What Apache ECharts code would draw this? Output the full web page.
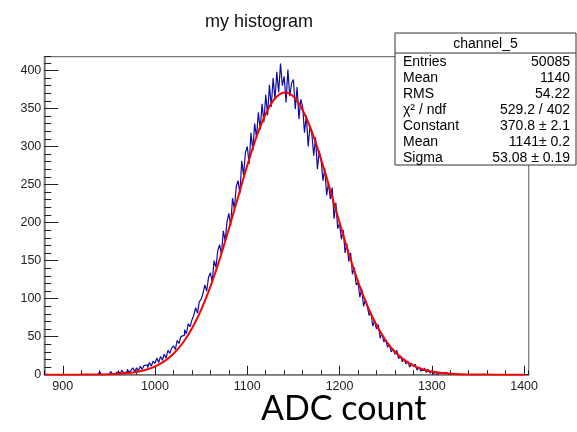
<!DOCTYPE html>
<html>
<head>
<meta charset="utf-8">
<script src="https://cdn.jsdelivr.net/npm/echarts@6/dist/echarts.min.js"></script>
<style>
html,body{margin:0;padding:0;background:#fff;}
#chart{width:577px;height:432px;}
</style>
</head>
<body>
<div id="chart"></div>
<script>
// Histogram: bins of width 2 starting at 930 (counts)
const binStart = 930;
const binWidth = 2;
const counts = [
  0,0,0,0,0,
  4,0,0,2,0,
  0,4,1,0,3,
  3,0,6,2,4,
  7,3,6,9,4,
  9,5,11,7,12,
  13,9,16,11,18,
  15,22,16,24,19,
  27,22,32,28,35,
  38,33,45,41,50,
  52,59,54,67,63,
  72,78,88,81,96,
  99,107,118,110,128,
  134,122,150,141,163,
  171,158,189,176,201,
  212,196,232,218,247,
  255,238,281,262,292,
  300,277,318,295,330,
  312,345,322,356,332,
  368,341,381,352,390,
  362,398,371,409,380,
  392,358,401,366,383,
  388,349,378,336,362,
  352,318,341,300,327,
  316,288,312,270,294,
  282,255,271,236,252,
  231,246,205,226,192,
  199,178,190,160,172,
  149,160,132,141,118,
  121,102,113,90,99,
  90,78,82,64,71,
  60,66,48,54,43,
  46,36,40,30,34,
  27,32,21,25,17,
  21,14,18,10,15,
  11,14,6,10,5,
  6,9,3,7,2,
  5,1,4,0,3,
  2,0,3,1,0,
  1,0,0,0,0
];
// Gaussian fit curve, read at sample points
const fitX = [881,891,901,911,921,931,941,951,961,971,981,991,1001,1011,1021,1031,1041,1051,1061,1071,1081,1091,1101,1111,1121,1131,1141,1151,1161,1171,1181,1191,1201,1211,1221,1231,1241,1251,1261,1271,1281,1291,1301,1311,1321,1331,1341,1351,1361,1371,1381,1391,1401];
const fitY = [0,0,0,0,0.1,0.1,0.3,0.6,1.2,2.2,3.9,6.8,11.4,18.5,28.8,43.3,62.9,88.1,119.1,155.4,195.7,237.9,279.1,316.1,345.4,364.3,370.8,364.3,345.4,316.1,279.1,237.9,195.7,155.4,119.1,88.1,62.9,43.3,28.8,18.5,11.4,6.8,3.9,2.2,1.2,0.6,0.3,0.1,0.1,0,0,0,0];
const xTickLabels = [900,1000,1100,1200,1300,1400];
const yTickLabels = [0,50,100,150,200,250,300,350,400];
const statsTitle = 'channel_5';
const statsNames = ['Entries','Mean','RMS','\u03C7\u00B2 / ndf','Constant','Mean','Sigma'];
const statsValues = ['50085','1140','54.22','529.2 / 402','370.8 \u00B1 2.1','1141\u00B1 0.2','53.08 \u00B1 0.19'];

const X_MIN = 880, X_MAX = 1405, Y_MIN = 0, Y_MAX = 418;

const histData = [[X_MIN, 0]];
counts.forEach((c, i) => histData.push([binStart + i * binWidth, c]));
histData.push([binStart + counts.length * binWidth, 0]);
histData.push([X_MAX, 0]);
const fitData = fitX.map((x, i) => [x, fitY[i]]);

const font = 'Liberation Sans, Arial, sans-serif';
const chart = echarts.init(document.getElementById('chart'), null, {renderer: 'canvas'});

// stats box
const box = {x: 395, y: 33, w: 181, headH: 20, rowH: 16};
const g = [];
const boxH = box.headH + box.rowH * statsNames.length;
g.push({type: 'rect', shape: {x: box.x, y: box.y, width: box.w, height: boxH}, style: {fill: '#fff', stroke: '#333', lineWidth: 1}, z: 100});
g.push({type: 'line', shape: {x1: box.x, y1: box.y + box.headH, x2: box.x + box.w, y2: box.y + box.headH}, style: {stroke: '#333', lineWidth: 1}, z: 101});
g.push({type: 'text', x: box.x + box.w / 2, y: box.y + box.headH / 2 + 1, style: {text: statsTitle, align: 'center', verticalAlign: 'middle', font: '14px ' + font, fill: '#000'}, z: 102});
statsNames.forEach((n, i) => {
  const cy = box.y + box.headH + box.rowH * (i + 0.5) + 1;
  g.push({type: 'text', x: box.x + 8, y: cy, style: {text: n, align: 'left', verticalAlign: 'middle', font: '14px ' + font, fill: '#000'}, z: 102});
  g.push({type: 'text', x: box.x + box.w - 6, y: cy, style: {text: statsValues[i], align: 'right', verticalAlign: 'middle', font: '14px ' + font, fill: '#000'}, z: 102});
});
g.push({type: 'text', x: 261, y: 409, style: {text: 'ADC count', align: 'left', verticalAlign: 'middle', font: '34px Lato, "Open Sans", sans-serif', fill: '#000'}, z: 102});

chart.setOption({
  animation: false,
  backgroundColor: '#fff',
  title: {text: 'my histogram', left: 200, top: 8, textStyle: {fontSize: 18, fontWeight: 'normal', fontFamily: font, color: '#111'}},
  grid: {left: 44.3, right: 48.3, top: 56.7, bottom: 57.3, show: true, borderColor: '#777', borderWidth: 1.2, backgroundColor: 'transparent'},
  xAxis: [
    {type: 'value', min: X_MIN, max: X_MAX, position: 'bottom', splitNumber: 5,
     axisLine: {show: true, lineStyle: {color: '#777', width: 1.5}},
     axisTick: {show: true, inside: true, length: 9, lineStyle: {color: '#222', width: 1}},
     axisLabel: {show: true, showMinLabel: false, showMaxLabel: false, margin: 5, fontSize: 12.5, fontFamily: font, color: '#222',
       formatter: v => xTickLabels.indexOf(v) >= 0 ? String(v) : ''},
     splitLine: {show: false}},
    {type: 'value', min: X_MIN, max: X_MAX, interval: 20, position: 'bottom',
     axisLine: {show: false}, axisTick: {show: true, inside: true, length: 4.5, lineStyle: {color: '#222', width: 1}},
     axisLabel: {show: false}, splitLine: {show: false}}
  ],
  yAxis: [
    {type: 'value', min: Y_MIN, max: Y_MAX, interval: 50, position: 'left',
     axisLine: {show: true, lineStyle: {color: '#777', width: 1.5}},
     axisTick: {show: true, inside: true, length: 14, lineStyle: {color: '#222', width: 1}},
     axisLabel: {show: true, showMaxLabel: false, margin: 3, fontSize: 12.5, fontFamily: font, color: '#222',
       formatter: v => yTickLabels.indexOf(v) >= 0 ? String(v) : ''},
     splitLine: {show: false}},
    {type: 'value', min: Y_MIN, max: Y_MAX, interval: 10, position: 'left',
     axisLine: {show: false}, axisTick: {show: true, inside: true, length: 7, lineStyle: {color: '#222', width: 1}},
     axisLabel: {show: false}, splitLine: {show: false}}
  ],
  series: [
    {type: 'line', name: 'hist', xAxisIndex: 0, yAxisIndex: 0, data: histData, step: 'end', symbol: 'none',
     lineStyle: {color: '#0d0d9e', width: 1.2}, z: 2},
    {type: 'line', name: 'fit', xAxisIndex: 0, yAxisIndex: 0, data: fitData, smooth: 0.4, symbol: 'none',
     lineStyle: {color: '#ff0000', width: 2}, z: 3}
  ],
  graphic: g
});
</script>
</body>
</html>
